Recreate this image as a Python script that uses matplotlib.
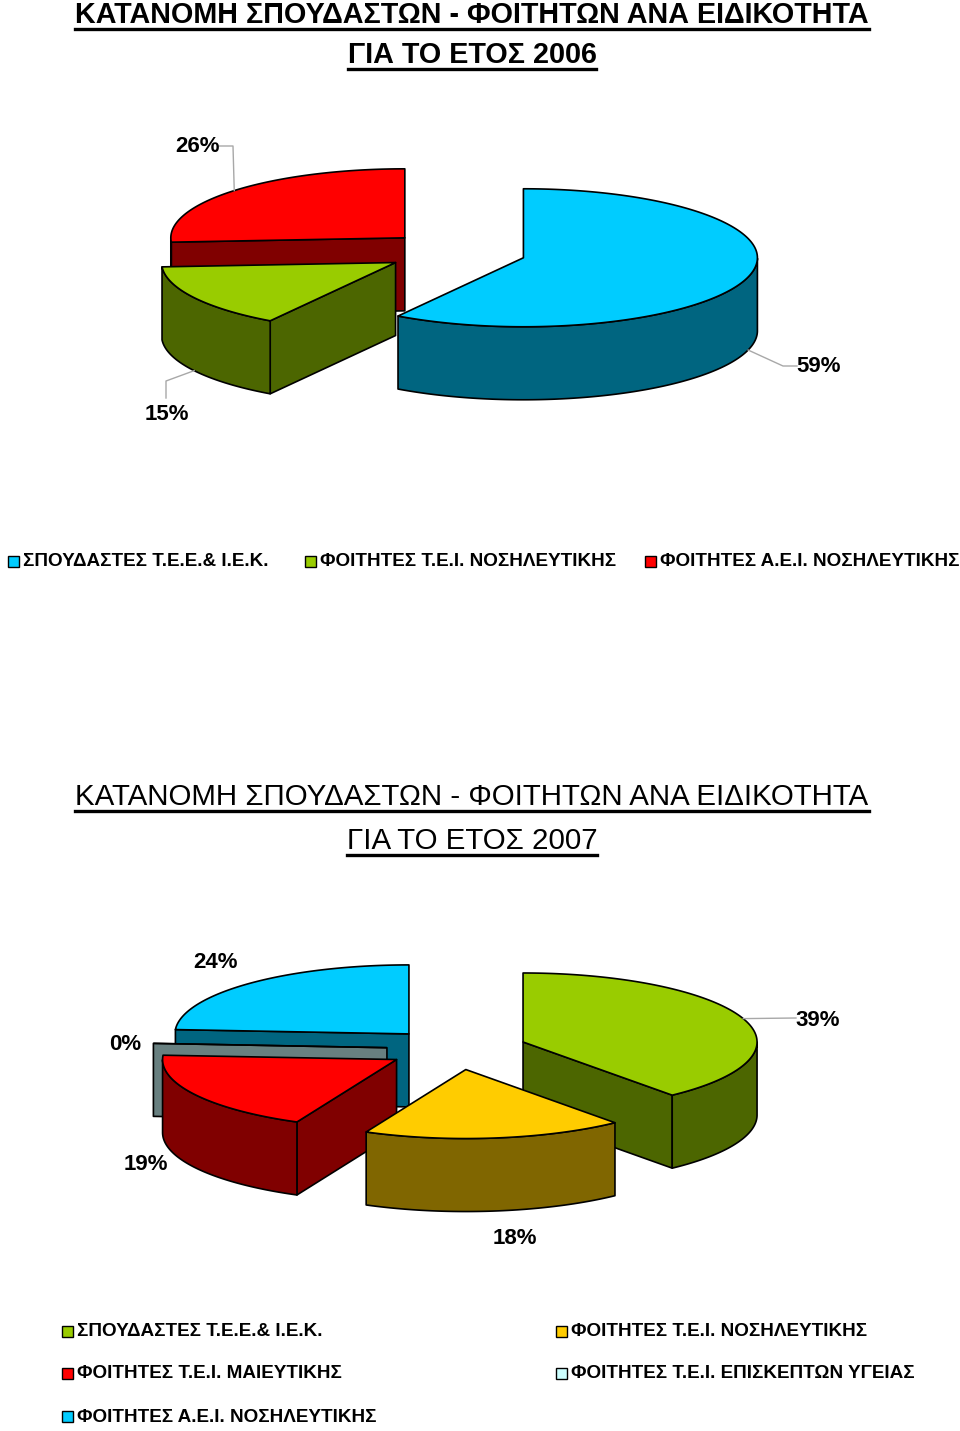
import matplotlib
matplotlib.use('Agg')
import matplotlib.pyplot as plt
import numpy as np
from matplotlib.patches import Polygon, Rectangle

# -- data --
title_line1 = 'ΚΑΤΑΝΟΜΗ ΣΠΟΥΔΑΣΤΩΝ - ΦΟΙΤΗΤΩΝ ΑΝΑ ΕΙΔΙΚΟΤΗΤΑ'
title_2006 = 'ΓΙΑ ΤΟ ΕΤΟΣ 2006'
title_2007 = 'ΓΙΑ ΤΟ ΕΤΟΣ 2007'

labels_2006 = ['ΣΠΟΥΔΑΣΤΕΣ Τ.Ε.Ε.& Ι.Ε.Κ.', 'ΦΟΙΤΗΤΕΣ Τ.Ε.Ι. ΝΟΣΗΛΕΥΤΙΚΗΣ',
               'ΦΟΙΤΗΤΕΣ Α.Ε.Ι. ΝΟΣΗΛΕΥΤΙΚΗΣ']
values_2006 = [59, 15, 26]

labels_2007 = ['ΣΠΟΥΔΑΣΤΕΣ Τ.Ε.Ε.& Ι.Ε.Κ.', 'ΦΟΙΤΗΤΕΣ Τ.Ε.Ι. ΝΟΣΗΛΕΥΤΙΚΗΣ',
               'ΦΟΙΤΗΤΕΣ Τ.Ε.Ι. ΜΑΙΕΥΤΙΚΗΣ', 'ΦΟΙΤΗΤΕΣ Τ.Ε.Ι. ΕΠΙΣΚΕΠΤΩΝ ΥΓΕΙΑΣ',
               'ΦΟΙΤΗΤΕΣ Α.Ε.Ι. ΝΟΣΗΛΕΥΤΙΚΗΣ']
values_2007 = [39, 18, 19, 0, 24]

# -- styles --
top_2006 = ['#00CCFF', '#99CC00', '#FF0000']
side_2006 = ['#006580', '#4C6600', '#800000']
top_2007 = ['#99CC00', '#FFCC00', '#FF0000', '#CCFFFF', '#00CCFF']
side_2007 = ['#4C6600', '#806600', '#800000', '#688080', '#006580']

plt.rcParams['font.family'] = ['Liberation Sans', 'DejaVu Sans']

W, H = 960, 1431
fig = plt.figure(figsize=(W / 100, H / 100), dpi=100)
ax = fig.add_axes([0, 0, 1, 1])
ax.set_xlim(0, W)
ax.set_ylim(H, 0)
ax.axis('off')
fig.canvas.draw()
rend = fig.canvas.get_renderer()

RX, RY, DEPTH, EXPLODE = 234, 69, 73, 0.3


def rim(ox, oy, t, down=0):
    t = np.radians(t)
    return ox + RX * np.cos(t), oy - RY * np.sin(t) + down


def pie3d(cx, cy, values, tops, sides):
    total = float(sum(values))
    cum = np.concatenate([[0], np.cumsum(values)]) / total
    slices = []
    for i in range(len(values)):
        t2 = 90 - 360 * cum[i]
        t1 = 90 - 360 * cum[i + 1]
        m = (t1 + t2) / 2
        ox = cx + EXPLODE * RX * np.cos(np.radians(m))
        oy = cy - EXPLODE * RY * np.sin(np.radians(m))
        slices.append((np.sin(np.radians(m)), i, t1, t2, m, ox, oy))
    info = {}
    # back slices first
    for s, i, t1, t2, m, ox, oy in sorted(slices, reverse=True):
        kw = dict(ec='black', lw=1.2, joinstyle='round')
        for t, vis in ((t1, np.cos(np.radians(t1)) > 1e-6),
                       (t2, np.cos(np.radians(t2)) < -1e-6)):
            if vis:
                px, py = rim(ox, oy, t)
                ax.add_patch(Polygon([(ox, oy), (px, py), (px, py + DEPTH),
                                      (ox, oy + DEPTH)], fc=sides[i], **kw))
        ts = np.linspace(t1, t2, 400)
        front = np.sin(np.radians(ts)) < 0
        if front.any() and t2 > t1:
            idx = np.where(front)[0]
            for r in np.split(idx, np.where(np.diff(idx) > 1)[0] + 1):
                xs, ys = rim(ox, oy, ts[r])
                pts = list(zip(xs, ys)) + list(zip(xs[::-1], ys[::-1] + DEPTH))
                ax.add_patch(Polygon(pts, fc=sides[i], **kw))
        xs, ys = rim(ox, oy, ts)
        ax.add_patch(Polygon([(ox, oy)] + list(zip(xs, ys)), fc=tops[i], **kw))
        info[i] = (m, ox, oy)
    return info


def leader(info, i, pts):
    m, ox, oy = info[i]
    down = DEPTH if np.sin(np.radians(m)) < 0 else 0
    ex, ey = rim(ox, oy, m, down)
    ax.plot([p[0] for p in pts] + [ex], [p[1] for p in pts] + [ey],
            color='#a8a8a8', lw=1.0, zorder=1)


def fit_size(s, width, weight):
    t = ax.text(0, 0, s, fontsize=20, fontweight=weight)
    w = t.get_window_extent(rend).width
    t.remove()
    return 20 * width / w


def title(y1, y2, text2, weight):
    size = fit_size(title_line1, 795, weight)
    for y, t in ((y1, title_line1), (y2, text2)):
        tx = ax.text(472, y, t, ha='center', va='center', fontsize=size,
                     fontweight=weight, color='black')
        bb = tx.get_window_extent(rend)
        ax.plot([bb.x0, bb.x1], [y + 14, y + 14], color='black', lw=2.4)


pct_kw = dict(fontsize=16, fontweight='bold', ha='center', va='center')

# -- 2006 --
title(15, 55, title_2006, 'bold')
info1 = pie3d(456, 252, values_2006, top_2006, side_2006)
pos1 = [(819, 366), (167, 414), (198, 147)]
for i, (x, y) in enumerate(pos1):
    ax.text(x, y, f'{values_2006[i]}%', **pct_kw)
leader(info1, 0, [(797, 366), (783, 366)])
leader(info1, 1, [(166, 398), (166, 381)])
leader(info1, 2, [(219, 146), (233, 146)])

leg_size = fit_size(labels_2006[2], 299, 'bold')
leg1_x = [8, 305, 645]
for i, x in enumerate(leg1_x):
    ax.add_patch(Rectangle((x, 556), 11, 11, fc=top_2006[i], ec='black', lw=1.0))
    ax.text(x + 15, 562, labels_2006[i], fontsize=leg_size, fontweight='bold',
            ha='left', va='center')

# -- 2007 --
title(797, 841, title_2007, 'normal')
info2 = pie3d(457, 1049, values_2007, top_2007, side_2007)
pos2 = [(818, 1020), (515, 1239), (146, 1164), (125, 1044), (216, 962)]
for i, (x, y) in enumerate(pos2):
    ax.text(x, y, f'{values_2007[i]}%', **pct_kw)
leader(info2, 0, [(796, 1018)])

leg2_x = [62, 556]
leg2_y = [1332, 1374, 1417]
for i, lab in enumerate(labels_2007):
    x = leg2_x[i % 2]
    y = leg2_y[i // 2]
    ax.add_patch(Rectangle((x, y - 6), 11, 11, fc=top_2007[i], ec='black', lw=1.0))
    ax.text(x + 15, y, lab, fontsize=leg_size, fontweight='bold', ha='left',
            va='center')

fig.savefig('out.png', dpi=100)
